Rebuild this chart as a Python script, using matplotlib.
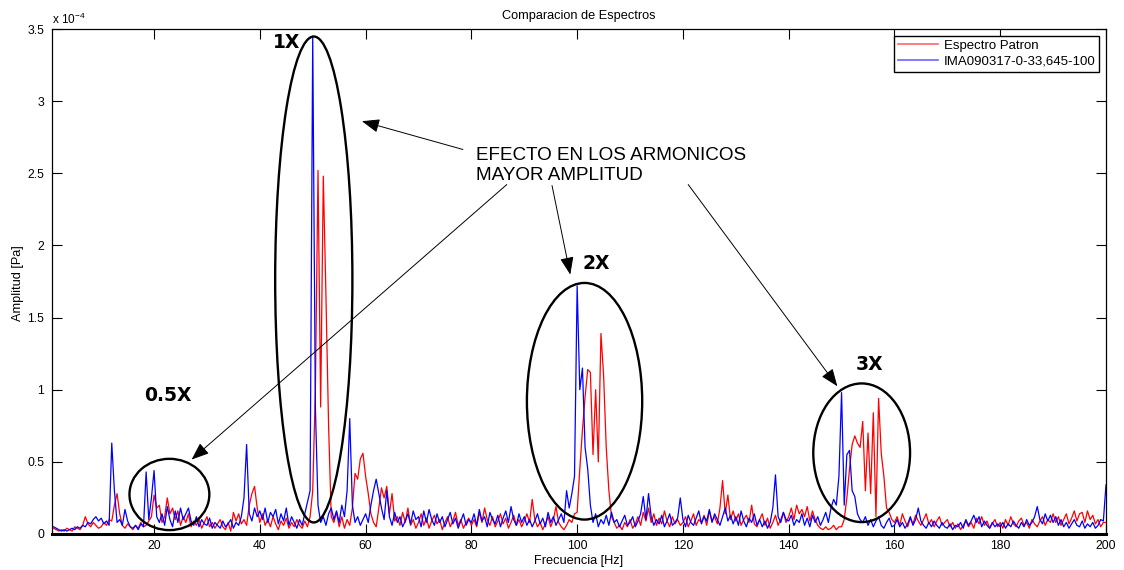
import numpy as np
import matplotlib
matplotlib.use("Agg")
import matplotlib.pyplot as plt
from matplotlib.patches import Ellipse
from matplotlib.ticker import FuncFormatter, MultipleLocator

plt.rcParams['font.family'] = ['Liberation Sans', 'DejaVu Sans']

# Frequency grid [Hz]
freq = np.arange(1.0, 200.25, 0.5)

# Amplitudes in micro-Pascal (x 1e-6 Pa), 0.5 Hz steps starting at 1 Hz
red_uPa = [
    # 1.0 - 9.5
    4, 3, 2, 3, 2, 4, 3, 2, 5, 4, 3, 6, 12, 7, 5, 8, 6, 4,
    # 10 - 19.5
    5, 8, 6, 10, 9, 20, 28, 14, 6, 4, 7, 5, 3, 6, 4, 8, 5, 6, 9, 12,
    # 20 - 29.5
    27, 18, 20, 8, 12, 25, 14, 18, 10, 16, 6, 12, 8, 14, 5, 9, 6, 10, 4, 8,
    # 30 - 39.5
    12, 5, 8, 4, 7, 10, 5, 3, 8, 2, 15, 9, 14, 7, 10, 6, 20, 28, 33, 18,
    # 40 - 49.5
    8, 14, 6, 10, 5, 12, 7, 3, 9, 6, 11, 4, 8, 5, 10, 6, 4, 9, 5, 12,
    # 50 - 59.5
    30, 100, 252, 88, 248, 165, 75, 12, 8, 15, 5, 12, 4, 10, 6, 18, 42, 38, 52, 56,
    # 60 - 69.5
    40, 28, 14, 8, 5, 18, 32, 25, 33, 14, 28, 9, 12, 6, 15, 8, 18, 6, 10, 4,
    # 70 - 79.5
    8, 14, 6, 11, 4, 9, 13, 7, 10, 3, 8, 12, 5, 9, 15, 6, 10, 4, 8, 11,
    # 80 - 89.5
    6, 10, 5, 15, 8, 18, 10, 6, 12, 5, 9, 14, 7, 11, 4, 8, 13, 6, 10, 5,
    # 90 - 99.5
    9, 14, 8, 24, 10, 5, 8, 3, 7, 12, 5, 10, 19, 8, 5, 3, 6, 10, 8, 14,
    # 100 - 109.5
    15, 45, 72, 95, 114, 112, 55, 100, 50, 139, 110, 60, 30, 12, 8, 4, 6, 3, 8, 5,
    # 110 - 119.5
    10, 4, 7, 12, 6, 15, 9, 18, 8, 14, 6, 11, 7, 16, 9, 5, 12, 7, 10, 6,
    # 120 - 129.5
    8, 12, 5, 9, 14, 6, 10, 8, 13, 6, 16, 9, 12, 7, 18, 37, 14, 27, 10, 16,
    # 130 - 139.5
    9, 14, 6, 10, 13, 8, 20, 7, 5, 10, 14, 6, 11, 4, 8, 13, 6, 10, 15, 8,
    # 140 - 149.5
    12, 18, 10, 20, 14, 17, 12, 19, 9, 16, 10, 6, 4, 3, 5, 3, 4, 6, 3, 5,
    # 150 - 159.5
    5, 10, 25, 45, 62, 68, 63, 60, 78, 30, 70, 28, 84, 12, 94, 56, 40, 18, 15, 10,
    # 160 - 169.5
    8, 12, 6, 14, 9, 5, 11, 7, 13, 9, 6, 10, 14, 7, 10, 5, 9, 12, 6, 8,
    # 170 - 179.5
    10, 5, 8, 4, 7, 3, 6, 9, 5, 8, 4, 11, 7, 12, 6, 9, 4, 7, 10, 5,
    # 180 - 189.5
    8, 4, 10, 6, 12, 7, 5, 9, 11, 6, 8, 4, 10, 7, 5, 9, 12, 6, 10, 8,
    # 190 - 199.5
    14, 8, 12, 6, 10, 14, 7, 11, 16, 9, 14, 15, 8, 16, 10, 13, 7, 10, 5, 8,
    # 200
    8,
]

blue_uPa = [
    # 1.0 - 9.5
    5, 4, 3, 2, 3, 2, 3, 4, 3, 5, 4, 6, 5, 8, 7, 10, 12, 9,
    # 10 - 19.5
    11, 7, 9, 6, 63, 30, 8, 10, 6, 17, 9, 5, 4, 6, 3, 7, 5, 43, 10, 25,
    # 20 - 29.5
    44, 12, 8, 14, 6, 19, 10, 5, 16, 8, 18, 10, 14, 18, 9, 6, 12, 5, 10, 7,
    # 30 - 39.5
    6, 11, 4, 8, 6, 4, 9, 5, 7, 10, 4, 8, 6, 12, 25, 62, 14, 9, 18, 12,
    # 40 - 49.5
    16, 10, 18, 8, 15, 12, 17, 7, 14, 9, 18, 6, 12, 8, 4, 10, 6, 14, 22, 30,
    # 50 - 59.5
    345, 88, 20, 8, 12, 6, 14, 18, 10, 16, 8, 20, 12, 30, 80, 20, 8, 12, 6, 10,
    # 60 - 69.5
    14, 8, 20, 30, 38, 28, 18, 10, 30, 12, 6, 15, 8, 12, 5, 9, 14, 7, 16, 10,
    # 70 - 79.5
    12, 5, 16, 8, 17, 10, 6, 14, 8, 12, 5, 10, 15, 7, 11, 4, 9, 14, 6, 10,
    # 80 - 89.5
    8, 14, 6, 17, 9, 12, 5, 15, 10, 7, 13, 5, 11, 16, 8, 19, 10, 6, 14, 8,
    # 90 - 99.5
    12, 6, 10, 5, 9, 14, 7, 11, 5, 15, 8, 12, 6, 10, 14, 8, 30, 18, 28, 40,
    # 100 - 109.5
    172, 100, 115, 60, 45, 20, 8, 14, 5, 10, 7, 13, 6, 15, 8, 10, 5, 9, 13, 6,
    # 110 - 119.5
    8, 12, 5, 9, 14, 26, 10, 28, 12, 6, 10, 7, 13, 5, 9, 14, 6, 8, 11, 25,
    # 120 - 129.5
    10, 5, 13, 8, 6, 11, 16, 7, 12, 9, 17, 8, 14, 10, 6, 12, 18, 9, 13, 7,
    # 130 - 139.5
    12, 6, 16, 9, 5, 11, 8, 14, 6, 10, 5, 9, 4, 8, 18, 41, 12, 8, 15, 10,
    # 140 - 149.5
    9, 13, 6, 10, 8, 14, 6, 11, 5, 13, 8, 12, 6, 10, 15, 8, 18, 24, 20, 40,
    # 150 - 159.5
    98, 20, 55, 58, 30, 26, 14, 10, 8, 12, 6, 10, 5, 9, 12, 6, 4, 8, 11, 5,
    # 160 - 169.5
    6, 10, 5, 8, 4, 7, 12, 6, 10, 18, 9, 6, 4, 8, 5, 9, 6, 4, 8, 5,
    # 170 - 179.5
    4, 7, 3, 6, 5, 8, 4, 10, 6, 9, 13, 8, 12, 5, 9, 6, 4, 8, 5, 7,
    # 180 - 189.5
    5, 8, 4, 7, 5, 9, 6, 4, 8, 5, 10, 6, 8, 12, 19, 10, 7, 14, 9, 13,
    # 190 - 199.5
    8, 12, 6, 10, 5, 8, 4, 7, 10, 6, 5, 9, 4, 7, 5, 8, 4, 6, 10, 9,
    # 200
    34,
]

red_label = "Espectro Patron"
blue_label = "IMA090317-0-33,645-100"

xticks = [20, 40, 60, 80, 100, 120, 140, 160, 180, 200]

red = np.array(red_uPa, dtype=float) * 1e-6
blue = np.array(blue_uPa, dtype=float) * 1e-6
assert len(red) == len(freq) and len(blue) == len(freq)

fig = plt.figure(figsize=(11.24, 5.70), dpi=100)
ax = fig.add_axes([52 / 1124, 36 / 570, 1054 / 1124, 505 / 570])

ax.plot(freq, red, color=(1, 0, 0), lw=0.9, label=red_label)
ax.plot(freq, blue, color=(0, 0, 1), lw=0.9, label=blue_label)

ax.set_xlim(0.7, 200)
ax.set_ylim(0, 3.5e-4)
ax.set_xticks(xticks)
ax.yaxis.set_major_locator(MultipleLocator(0.5e-4))


def yfmt(v, pos):
    s = f"{v / 1e-4:.1f}"
    if s.endswith(".0"):
        s = s[:-2]
    return s


ax.yaxis.set_major_formatter(FuncFormatter(yfmt))
ax.tick_params(direction='in', length=7.5, width=0.8, top=True, right=True,
               labelsize=8.8, colors='black')
ax.tick_params(axis='x', pad=4.5)
ax.tick_params(axis='y', pad=5.5)
for side in ['left', 'right', 'top']:
    ax.spines[side].set_linewidth(0.9)
ax.spines['bottom'].set_linewidth(2.2)

ax.set_title("Comparacion de Espectros", fontsize=9.2, pad=7)
ax.set_xlabel("Frecuencia [Hz]", fontsize=9.2)
ax.set_ylabel("Amplitud [Pa]", fontsize=9.2)
ax.xaxis.set_label_coords(0.5, -0.041)
ax.yaxis.set_label_coords(-0.027, 0.496)
ax.xaxis.label.set_va('top')

ax.text(0.0, 1.009, r"x 10$^{\mathregular{-4}}$", transform=ax.transAxes,
        ha='left', va='baseline', fontsize=8.5)

leg = ax.legend(loc='upper right', fontsize=9.5, frameon=True, fancybox=False,
                edgecolor='black', framealpha=1, borderpad=0.3,
                labelspacing=0.3, handlelength=3.0, handletextpad=0.45,
                borderaxespad=0.5)
leg.get_frame().set_linewidth(1.0)
for h in leg.get_lines():
    h.set_linewidth(1.2)
    h.set_alpha(0.6)

# Ellipses around harmonics
ell_specs = [
    (50.2, 1.764e-4, 14.6, 3.368e-4),
    (101.4, 0.920e-4, 21.8, 1.640e-4),
    (153.8, 0.563e-4, 18.3, 0.961e-4),
    (22.9, 0.274e-4, 15.1, 0.494e-4),
]
for cx, cy, w, h in ell_specs:
    ax.add_patch(Ellipse((cx, cy), w, h, fill=False, edgecolor='black',
                         lw=1.7, zorder=5))

bold_kw = dict(fontsize=13.5, fontweight='bold', family='DejaVu Sans',
               ha='center', va='center', zorder=6)
ax.text(45.0, 3.406e-4, "1X", **bold_kw)
ax.text(103.6, 1.877e-4, "2X", **bold_kw)
ax.text(155.3, 1.178e-4, "3X", **bold_kw)
ax.text(22.7, 0.961e-4, "0.5X", **bold_kw)

ax.text(80.93, 2.68e-4, "EFECTO EN LOS ARMONICOS\nMAYOR AMPLITUD",
        fontsize=13.6, ha='left', va='top', linespacing=1.18, zorder=6)

arrows = [
    ((78.4, 2.665e-4), (59.3, 2.861e-4)),
    ((86.7, 2.422e-4), (27.1, 0.516e-4)),
    ((95.25, 2.415e-4), (98.7, 1.798e-4)),
    ((121.0, 2.422e-4), (149.2, 1.024e-4)),
]
for tail, head in arrows:
    ax.annotate("", xy=head, xytext=tail,
                arrowprops=dict(arrowstyle='-|>,head_length=0.9,head_width=0.35',
                                color='black', lw=0.7, shrinkA=0, shrinkB=0,
                                mutation_scale=12),
                zorder=6)

fig.savefig("out.png", dpi=100)
